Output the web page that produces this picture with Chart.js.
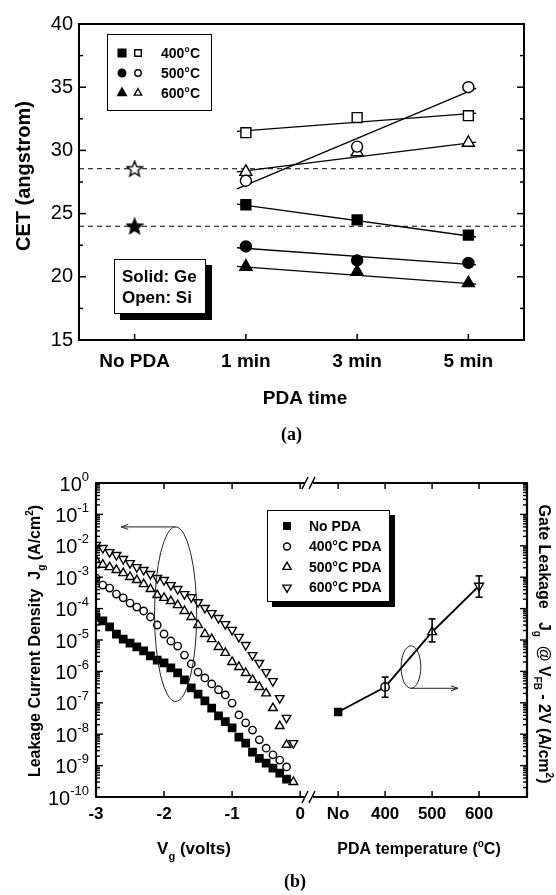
<!DOCTYPE html>
<html>
<head>
<meta charset="utf-8">
<script src="https://cdn.jsdelivr.net/npm/chart.js"></script>
<style>
  body { margin: 0; background: #fff; width: 556px; height: 895px; position: relative; overflow: hidden; }
  canvas { position: absolute; left: 0; }
  #chartA { top: 0; }
  #chartB { top: 440px; }
  .cap { position: absolute; font: bold 18px "Liberation Serif", serif; }
</style>
</head>
<body>
<canvas id="chartA" width="556" height="440"></canvas>
<canvas id="chartB" width="556" height="455"></canvas>
<div class="cap" style="left:281px;top:424px">(a)</div>
<div class="cap" style="left:284px;top:871px">(b)</div>
<script>
// ---------- panel (a): CET vs PDA time ----------
const timeLabels = ['No PDA', '1 min', '3 min', '5 min'];
const timeIdx = [1, 2, 3];
const geSolid400 = [25.7, 24.5, 23.3];
const geSolid500 = [22.4, 21.3, 21.1];
const geSolid600 = [20.8, 20.4, 19.5];
const siOpen400 = [31.4, 32.6, 32.75];
const siOpen500 = [27.6, 30.3, 35.0];
const siOpen600 = [28.3, 29.85, 30.6];
const noPdaGe = 24.0;
const noPdaSi = 28.55;
// fitted lines, end points
const fitX = [0.92, 3.07];
const fitSolid400 = [25.75, 23.15];
const fitSolid500 = [22.3, 20.95];
const fitSolid600 = [20.82, 19.42];
const fitOpen400 = [31.5, 32.95];
const fitOpen500 = [26.95, 34.9];
const fitOpen600 = [28.3, 30.65];
const cetLegend = ['400°C', '500°C', '600°C'];

// ---------- panel (b): leakage ----------
const vg = [-3.0, -2.9, -2.8, -2.7, -2.6, -2.5, -2.4, -2.3, -2.2, -2.1, -2.0, -1.9, -1.8, -1.7, -1.6,
            -1.5, -1.4, -1.3, -1.2, -1.1, -1.0, -0.9, -0.8, -0.7, -0.6, -0.5, -0.4, -0.3, -0.2, -0.1];
const jgNoPda = [5.4e-5, 4.1e-5, 2.6e-5, 1.55e-5, 1.07e-5, 8.0e-6, 6.0e-6, 4.5e-6, 3.1e-6, 2.3e-6,
                 1.86e-6, 1.29e-6, 8.9e-7, 5.4e-7, 3.0e-7, 1.9e-7, 1.15e-7, 6.8e-8, 3.8e-8, 2.5e-8,
                 1.6e-8, 8.1e-9, 5.2e-9, 2.7e-9, 1.7e-9, 1.2e-9, 8.3e-10, 5.8e-10, 3.7e-10];
const jg400 = [9.4e-4, 5.6e-4, 4.5e-4, 2.9e-4, 2.2e-4, 1.5e-4, 1.12e-4, 8.4e-5, 5.4e-5, 3.0e-5,
               1.55e-5, 9.3e-6, 6.4e-6, 3.3e-6, 1.73e-6, 9.5e-7, 6.2e-7, 4.0e-7, 2.6e-7, 1.78e-7,
               9.8e-8, 4.1e-8, 2.3e-8, 1.35e-8, 6.6e-9, 3.6e-9, 2.2e-9, 1.5e-9, 9.1e-10];
const jg500 = [3.5e-3, 2.5e-3, 2.1e-3, 1.7e-3, 1.35e-3, 1.02e-3, 8.1e-4, 6.0e-4, 4.2e-4, 2.7e-4,
               2.2e-4, 1.74e-4, 1.29e-4, 8.4e-5, 5.4e-5, 3.0e-5, 1.55e-5, 1.07e-5, 6.0e-6, 3.9e-6,
               2.0e-6, 1.38e-6, 8.9e-7, 5.4e-7, 3.2e-7, 2.0e-7, 6.8e-8, 1.82e-8, 4.6e-9, 3.0e-10];
const jg600 = [1.07e-2, 8.5e-3, 6.3e-3, 5.1e-3, 3.8e-3, 2.8e-3, 2.1e-3, 1.7e-3, 1.26e-3, 9.4e-4,
               8.1e-4, 5.6e-4, 4.2e-4, 2.9e-4, 2.3e-4, 1.6e-4, 1.05e-4, 7.2e-5, 5.0e-5, 3.2e-5,
               2.1e-5, 1.26e-5, 6.9e-6, 3.3e-6, 1.86e-6, 9.5e-7, 4.9e-7, 1.41e-7, 3.3e-8, 5.2e-9];
const vgTicks = [-3, -2, -1, 0];
const pdaTemp = [300, 400, 500, 600];
const pdaTempLabels = ['No', '400', '500', '600'];
const jgAtVfb = [5.1e-8, 3.2e-7, 1.8e-5, 5.3e-4];
const jgErrHigh = [null, 6.6e-7, 4.7e-5, 1.1e-3];
const jgErrLow = [null, 1.5e-7, 8.7e-6, 2.3e-4];
const decades = [1e-10, 1e-9, 1e-8, 1e-7, 1e-6, 1e-5, 1e-4, 1e-3, 1e-2, 1e-1, 1];
const decadeExp = ['-10', '-9', '-8', '-7', '-6', '-5', '-4', '-3', '-2', '-1', '0'];
const leakLegend = ['No PDA', '400°C PDA', '500°C PDA', '600°C PDA'];
const leftRing = { x: -1.83, halfW: 0.31, top: 4.0e-2, bottom: 1.1e-7, arrowTo: -2.63 };
const rightRing = { x: 455, halfW: 21, top: 6.5e-6, bottom: 2.9e-7, arrowTo: 555 };

const FONT = '"Liberation Sans", Arial, Helvetica, sans-serif';

function line(ctx, x1, y1, x2, y2) {
  ctx.beginPath(); ctx.moveTo(x1, y1); ctx.lineTo(x2, y2); ctx.stroke();
}

// text with sub/superscript pieces, centred on (x, y)
function richText(ctx, parts, x, y, rot, size) {
  const fontOf = k => 'bold ' + (k ? Math.round(size * 0.62) : size) + 'px ' + FONT;
  ctx.save();
  ctx.translate(x, y); ctx.rotate(rot);
  ctx.textAlign = 'left'; ctx.textBaseline = 'alphabetic'; ctx.fillStyle = '#000';
  let w = 0;
  parts.forEach(([t, k]) => { ctx.font = fontOf(k); w += ctx.measureText(t).width; });
  let cx = -w / 2;
  parts.forEach(([t, k]) => {
    ctx.font = fontOf(k);
    const dy = k === 'sub' ? size * 0.32 : k === 'sup' ? -size * 0.45 : 0;
    ctx.fillText(t, cx, size * 0.36 + dy);
    cx += ctx.measureText(t).width;
  });
  ctx.restore();
}

function marker(ctx, style, fill, r, x, y, rot) {
  ctx.fillStyle = fill ? '#000' : '#fff';
  ctx.strokeStyle = '#000';
  ctx.lineWidth = 1.4;
  Chart.helpers.drawPoint(ctx, { pointStyle: style, rotation: rot || 0, radius: r, borderWidth: 1.4 }, x, y);
}

function starImage(fill) {
  const c = document.createElement('canvas');
  c.width = 18; c.height = 18;
  const g = c.getContext('2d');
  g.beginPath();
  for (let i = 0; i < 10; i++) {
    const r = i % 2 ? 3.5 : 8.2;
    const a = -Math.PI / 2 + i * Math.PI / 5;
    g.lineTo(9 + r * Math.cos(a), 9.6 + r * Math.sin(a));
  }
  g.closePath();
  g.fillStyle = fill ? '#000' : '#fff';
  g.fill();
  g.lineWidth = 1.4; g.strokeStyle = '#000';
  g.stroke();
  return c;
}

const pts = (xs, ys) => xs.map((x, i) => ({ x: x, y: ys[i] }));

// ================= chart A =================
const fitLine = ys => ({ data: pts(fitX, ys), showLine: true, borderColor: '#000', borderWidth: 1.3, pointRadius: 0, order: 2 });
const marks = (ys, style, fill, r, rot) => ({
  data: pts(timeIdx, ys), pointStyle: style, pointRadius: r, rotation: rot || 0,
  backgroundColor: fill ? '#000' : '#fff', borderColor: '#000', borderWidth: 1.4, order: 1
});
const dashed = v => ({
  data: pts([-0.5, 3.5], [v, v]), showLine: true, borderColor: '#000', borderWidth: 1,
  borderDash: [5, 4], pointRadius: 0, order: 3
});

const frameA = {
  id: 'frameA',
  afterDraw(chart) {
    const { ctx, chartArea: a, scales: { x, y } } = chart;
    ctx.save();
    ctx.strokeStyle = '#000';
    ctx.lineWidth = 2;
    ctx.strokeRect(a.left, a.top, a.right - a.left, a.bottom - a.top);
    ctx.lineWidth = 1.5;
    y.ticks.forEach(t => {
      const py = y.getPixelForValue(t.value);
      const len = t.value % 5 === 0 ? 7 : 4;
      line(ctx, a.left, py, a.left + len, py);
      line(ctx, a.right, py, a.right - len, py);
    });
    x.ticks.forEach(t => {
      const px = x.getPixelForValue(t.value);
      line(ctx, px, a.bottom, px, a.bottom - 6);
    });

    // legend of temperatures
    ctx.lineWidth = 1;
    ctx.strokeRect(107.5, 34.5, 104, 76);
    const styles = [['rect', 5.4], ['circle', 3.8], ['triangle', 5]];
    styles.forEach(([s, r], i) => {
      const ry = 53 + i * 20;
      marker(ctx, s, true, r, 122, ry);
      marker(ctx, s, false, r * 0.85, 138, ry);
      ctx.fillStyle = '#000';
      ctx.font = 'bold 14px ' + FONT;
      ctx.textAlign = 'left'; ctx.textBaseline = 'middle';
      ctx.fillText(cetLegend[i], 161, ry + 1);
    });

    // solid / open note box with shadow
    ctx.lineWidth = 1;
    ctx.fillStyle = '#000';
    ctx.fillRect(120, 265, 92, 55);
    ctx.fillStyle = '#fff';
    ctx.fillRect(114, 259, 92, 55);
    ctx.strokeRect(114.5, 259.5, 91, 54);
    ctx.fillStyle = '#000';
    ctx.font = 'bold 17px ' + FONT;
    ctx.textAlign = 'left'; ctx.textBaseline = 'middle';
    ctx.fillText('Solid: Ge', 122, 277);
    ctx.fillText('Open: Si', 122, 298);

    richText(ctx, [['CET (angstrom)']], 23, 176, -Math.PI / 2, 20);
    richText(ctx, [['PDA time']], 305, 397, 0, 19);
    ctx.restore();
  }
};

new Chart(document.getElementById('chartA'), {
  type: 'scatter',
  data: {
    datasets: [
      marks(siOpen400, 'rect', false, 7),
      marks(siOpen500, 'circle', false, 5.5),
      marks(siOpen600, 'triangle', false, 7),
      marks(geSolid400, 'rect', true, 7),
      marks(geSolid500, 'circle', true, 5.5),
      marks(geSolid600, 'triangle', true, 7),
      { data: [{ x: 0, y: noPdaSi }], pointStyle: starImage(false), order: 1 },
      { data: [{ x: 0, y: noPdaGe }], pointStyle: starImage(true), order: 1 },
      fitLine(fitOpen400), fitLine(fitOpen500), fitLine(fitOpen600),
      fitLine(fitSolid400), fitLine(fitSolid500), fitLine(fitSolid600),
      dashed(noPdaSi), dashed(noPdaGe)
    ]
  },
  options: {
    responsive: false,
    animation: false,
    layout: { padding: { top: 24, right: 32, left: 0, bottom: 0 } },
    plugins: { legend: { display: false }, tooltip: { enabled: false } },
    scales: {
      x: {
        type: 'linear', min: -0.5, max: 3.5,
        afterBuildTicks: s => { s.ticks = [0, 1, 2, 3].map(v => ({ value: v })); },
        ticks: {
          autoSkip: false, maxRotation: 0, padding: 12, color: '#000',
          font: { family: FONT, size: 19, weight: 'bold', lineHeight: 1 },
          callback: v => timeLabels[v]
        },
        grid: { display: false, drawTicks: false },
        border: { display: false },
        afterFit: s => { s.height = 100; }
      },
      y: {
        min: 15, max: 40,
        ticks: {
          stepSize: 2.5, padding: 6, color: '#000',
          font: { family: FONT, size: 20 },
          callback: v => (v % 5 === 0 ? v : '')
        },
        grid: { display: false, drawTicks: false },
        border: { display: false },
        afterFit: s => { s.width = 79; }
      }
    }
  },
  plugins: [frameA]
});

// ================= chart B =================
const leakSet = (ys, style, fill, r, rot) => ({
  xAxisID: 'xl', yAxisID: 'y',
  data: pts(vg, ys), pointStyle: style, pointRadius: r, rotation: rot || 0,
  backgroundColor: fill ? '#000' : '#fff', borderColor: '#000', borderWidth: 1.4
});

const frameB = {
  id: 'frameB',
  afterDraw(chart) {
    const { ctx, chartArea: a, scales: { xl, xr, y } } = chart;
    ctx.save();
    ctx.strokeStyle = '#000';
    const sp = xl.right;

    // frame with axis break
    ctx.lineWidth = 2.2;
    line(ctx, a.left, a.top, a.left, a.bottom);
    line(ctx, a.right, a.top, a.right, a.bottom);
    [a.top, a.bottom].forEach(yy => {
      ctx.lineWidth = 2.2;
      line(ctx, a.left - 1, yy, sp - 4, yy);
      line(ctx, sp + 4, yy, a.right + 1, yy);
      ctx.lineWidth = 1.6;
      line(ctx, sp - 7, yy + 6, sp - 1, yy - 6);
      line(ctx, sp, yy + 6, sp + 6, yy - 6);
    });

    // log ticks, left and right
    ctx.lineWidth = 1.4;
    decades.forEach((d, i) => {
      const py = y.getPixelForValue(d);
      line(ctx, a.left, py, a.left + 7, py);
      line(ctx, a.right, py, a.right - 7, py);
      if (i < decades.length - 1) {
        for (let m = 2; m <= 9; m++) {
          const pm = y.getPixelForValue(d * m);
          line(ctx, a.left, pm, a.left + 4, pm);
          line(ctx, a.right, pm, a.right - 4, pm);
        }
      }
      // label 10^n
      ctx.fillStyle = '#000';
      ctx.textBaseline = 'middle'; ctx.textAlign = 'left';
      ctx.font = '13px ' + FONT;
      const we = ctx.measureText(decadeExp[i]).width;
      ctx.font = '20px ' + FONT;
      const wb = ctx.measureText('10').width;
      const xr0 = a.left - 7;
      ctx.fillText('10', xr0 - we - wb, py + 2);
      ctx.font = '13px ' + FONT;
      ctx.fillText(decadeExp[i], xr0 - we, py - 6);
    });

    // x ticks top and bottom
    ctx.lineWidth = 1.5;
    vgTicks.forEach(v => {
      const px = xl.getPixelForValue(v);
      line(ctx, px, a.bottom, px, a.bottom - 6);
      line(ctx, px, a.top, px, a.top + 6);
    });
    pdaTemp.forEach(v => {
      const px = xr.getPixelForValue(v);
      line(ctx, px, a.bottom, px, a.bottom - 6);
      line(ctx, px, a.top, px, a.top + 6);
    });

    // error bars
    ctx.lineWidth = 1.6;
    pdaTemp.forEach((t, i) => {
      if (jgErrHigh[i] == null) return;
      const px = xr.getPixelForValue(t);
      const hi = y.getPixelForValue(jgErrHigh[i]);
      const lo = y.getPixelForValue(jgErrLow[i]);
      line(ctx, px, hi, px, lo);
      line(ctx, px - 3.5, hi, px + 3.5, hi);
      line(ctx, px - 3.5, lo, px + 3.5, lo);
    });

    // rings with arrows
    ctx.lineWidth = 1;
    ctx.strokeStyle = '#222';
    const ring = (sx, r, toLeft) => {
      const cx = sx.getPixelForValue(r.x);
      const rx = Math.abs(sx.getPixelForValue(r.x + r.halfW) - cx);
      const top = y.getPixelForValue(r.top), bot = y.getPixelForValue(r.bottom);
      ctx.beginPath();
      ctx.ellipse(cx, (top + bot) / 2, rx, (bot - top) / 2, 0, 0, Math.PI * 2);
      ctx.stroke();
      const ay = toLeft ? top : bot;
      const ax = sx.getPixelForValue(r.arrowTo);
      line(ctx, cx, ay, ax, ay);
      const dir = toLeft ? 1 : -1;
      line(ctx, ax, ay, ax + dir * 7, ay - 2.5);
      line(ctx, ax, ay, ax + dir * 7, ay + 2.5);
    };
    ring(xl, leftRing, true);
    ring(xr, rightRing, false);

    // legend with shadow
    ctx.strokeStyle = '#000';
    ctx.fillStyle = '#000';
    ctx.fillRect(272, 75, 123, 92);
    ctx.fillStyle = '#fff';
    ctx.fillRect(267, 70, 123, 92);
    ctx.lineWidth = 1;
    ctx.strokeRect(267.5, 70.5, 122, 91);
    const lst = [['rect', 4.6, true, 0], ['circle', 3.5, false, 0], ['triangle', 4.8, false, 0], ['triangle', 4.8, false, 180]];
    lst.forEach(([s, r, f, rot], i) => {
      const ry = 86 + i * 20.5;
      marker(ctx, s, f, r, 287, ry, rot);
      ctx.fillStyle = '#000';
      ctx.font = 'bold 14px ' + FONT;
      ctx.textAlign = 'left'; ctx.textBaseline = 'middle';
      ctx.fillText(leakLegend[i], 309, ry + 1);
    });

    // axis titles
    richText(ctx, [['Leakage Current Density  J'], ['g', 'sub'], [' (A/cm'], ['2', 'sup'], [')']], 34, 201, -Math.PI / 2, 16);
    richText(ctx, [['Gate Leakage   J'], ['g', 'sub'], ['  @ V'], ['FB', 'sub'], [' - 2V (A/cm'], ['2', 'sup'], [')']], 545, 204, Math.PI / 2, 16);
    richText(ctx, [['V'], ['g', 'sub'], [' (volts)']], 194, 408, 0, 17);
    richText(ctx, [['PDA temperature ('], ['o', 'sup'], ['C)']], 419, 408, 0, 16);
    ctx.restore();
  }
};

new Chart(document.getElementById('chartB'), {
  type: 'scatter',
  data: {
    datasets: [
      leakSet(jgNoPda, 'rect', true, 5.2),
      leakSet(jg400, 'circle', false, 3.7),
      leakSet(jg500, 'triangle', false, 5),
      leakSet(jg600, 'triangle', false, 5, 180),
      {
        xAxisID: 'xr', yAxisID: 'y',
        data: pts(pdaTemp, jgAtVfb), showLine: true, borderColor: '#000', borderWidth: 1.8,
        pointStyle: ['rect', 'circle', 'triangle', 'triangle'],
        rotation: [0, 0, 0, 180],
        pointRadius: [5, 4.2, 5.2, 5.2],
        backgroundColor: ['#000', '#fff', '#fff', '#fff'],
        pointBorderColor: '#000', pointBorderWidth: 1.4
      }
    ]
  },
  options: {
    responsive: false,
    animation: false,
    layout: { padding: { top: 43, right: 0, left: 0, bottom: 0 } },
    plugins: { legend: { display: false }, tooltip: { enabled: false } },
    scales: {
      xl: {
        type: 'linear', position: 'bottom', stack: 'xb', stackWeight: 213,
        min: -3, max: 0.13,
        afterBuildTicks: s => { s.ticks = vgTicks.map(v => ({ value: v })); },
        ticks: {
          autoSkip: false, maxRotation: 0, padding: 9, color: '#000',
          font: { family: FONT, size: 17, weight: 'bold', lineHeight: 1 },
          callback: v => String(v)
        },
        grid: { display: false, drawTicks: false },
        border: { display: false },
        afterFit: s => { s.height = 98; }
      },
      xr: {
        type: 'linear', position: 'bottom', stack: 'xb', stackWeight: 218,
        min: 238, max: 702,
        afterBuildTicks: s => { s.ticks = pdaTemp.map(v => ({ value: v })); },
        ticks: {
          autoSkip: false, maxRotation: 0, padding: 9, color: '#000',
          font: { family: FONT, size: 17, weight: 'bold', lineHeight: 1 },
          callback: v => pdaTempLabels[pdaTemp.indexOf(v)]
        },
        grid: { display: false, drawTicks: false },
        border: { display: false },
        afterFit: s => { s.height = 98; }
      },
      y: {
        type: 'logarithmic', position: 'left', min: 1e-10, max: 1,
        ticks: { display: false },
        grid: { display: false, drawTicks: false },
        border: { display: false },
        afterFit: s => { s.width = 96; }
      },
      y2: {
        type: 'logarithmic', position: 'right', min: 1e-10, max: 1,
        ticks: { display: false },
        grid: { display: false, drawTicks: false },
        border: { display: false },
        afterFit: s => { s.width = 29; }
      }
    }
  },
  plugins: [frameB]
});
</script>
</body>
</html>
